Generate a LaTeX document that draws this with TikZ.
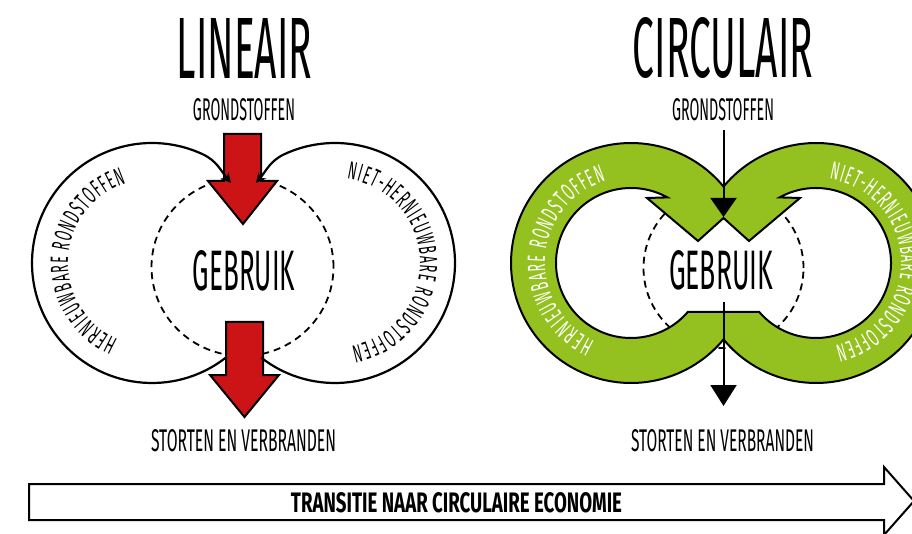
\documentclass[tikz,border=0pt]{standalone}
\usepackage{fontspec}
\setmainfont{Fira Sans}
\newfontfamily\handfont[FakeStretch=0.62]{Fira Sans}
\newfontfamily\curvefont[FakeStretch=0.5,Scale=2.5]{Fira Sans}
\usetikzlibrary{arrows.meta,decorations.text}
\definecolor{arrowred}{RGB}{204,20,23}
\definecolor{ringgreen}{RGB}{148,193,31}
\newcommand\lincurve{\curvefont}
\newcommand\greencurve{\curvefont}
\begin{document}
\begin{tikzpicture}[x=1pt,y=1pt,
  outl/.style={line width=2.2pt, draw=black},
  dashcirc/.style={line width=1.8pt, dash pattern=on 7pt off 5pt},
  redarrow/.style={fill=arrowred, draw=black, line width=2pt, line join=miter},
  ringfill/.style={fill=ringgreen, draw=black, line width=2pt, even odd rule, line join=miter},
  lbl/.style={inner sep=0pt, text=black},
  vline/.style={line width=2pt, draw=black},
  curvetxt/.style={decorate, decoration={text along path, text align=fit to path, text={#1}}},
  curvewhite/.style={decorate, decoration={text along path, text align=fit to path, text color=white, text={#1}}},
]
\useasboundingbox (0,0) rectangle (912,533);
\clip (0,0) rectangle (912,533);

% ---------- coordinates
\coordinate (LC1) at (152,270);
\coordinate (RC1) at (335,270);
\coordinate (CL) at (631,270);
\coordinate (CR) at (816,270);
\coordinate (lindash) at (242.5,266);
\coordinate (circdash) at (723.5,265);

% ---------- dashed circles
\draw[dashcirc] (lindash) ellipse [x radius=91, y radius=89];
\draw[dashcirc] (circdash) circle [radius=80];

% ---------- LINEAIR: red arrows
\draw[redarrow] (224,399) -- (261,399) -- (261,352) -- (277,352) -- (243,309) -- (208,352) -- (224,352) -- cycle;
\draw[redarrow] (226,211) -- (263,211) -- (263,158) -- (279,158) -- (244.5,116) -- (210,158) -- (226,158) -- cycle;

% ---------- LINEAIR: circles with arrowheads
\coordinate (tipL) at (231,350);
\coordinate (tipR) at (256,350);
\draw[outl, -{Stealth[length=10pt,width=10pt]}] ([shift={(-52:120)}]LC1) arc[start angle=-52, end angle=-295, radius=120] to[out=-25, in=130] (tipL);
\draw[outl, -{Stealth[length=10pt,width=10pt]}] ([shift={(232:120)}]RC1) arc[start angle=232, end angle=475, radius=120] to[out=-155, in=50] (tipR);

% ---------- LINEAIR: curved texts
\path[curvetxt={|\lincurve|HERNIEUWBARE RONDSTOFFEN}] ([shift={(246:84)}]LC1) arc[start angle=246, end angle=108, radius=84];
\path[curvetxt={|\lincurve|NIET-HERNIEUWBARE RONDSTOFFEN}] ([shift={(82:85)}]RC1) arc[start angle=82, end angle=-79, radius=85];

% ---------- CIRCULAIR: green rings
\draw[ringfill]
  ([shift={(39.55:120)}]CL) arc[start angle=39.55, end angle=320.45, radius=120]
  arc[start angle=219.55, end angle=500.45, radius=120] -- cycle
  ([shift={(-40.7:75)}]CL) arc[start angle=-40.7, end angle=-299, radius=75]
  -- (647,335) -- (698,292) -- (723.5,315) -- (749,292) -- (800,335)
  -- ([shift={(119:75)}]CR) arc[start angle=119, end angle=-139.3, radius=75] -- cycle;

% ---------- CIRCULAIR: curved white texts
\path[curvewhite={|\greencurve|HERNIEUWBARE RONDSTOFFEN}] ([shift={(245:86)}]CL) arc[start angle=245, end angle=107, radius=86];
\path[curvewhite={|\greencurve|NIET-HERNIEUWBARE RONDSTOFFEN}] ([shift={(81:85)}]CR) arc[start angle=81, end angle=-77, radius=85];

% ---------- titles and labels
\node[lbl] (lintitle) at (244.5,485) {\resizebox{135pt}{60pt}{\handfont LINEAIR}};
\node[lbl] (circtitle) at (723,485) {\resizebox{180pt}{60pt}{\handfont CIRCULAIR}};
\node[lbl] (lingrond) at (244,423) {\resizebox{102pt}{22pt}{\handfont GRONDSTOFFEN}};
\node[lbl] (circgrond) at (723,423) {\resizebox{102pt}{22pt}{\handfont GRONDSTOFFEN}};
\node[lbl] (lingeb) at (244,262.5) {\resizebox{102pt}{40pt}{\handfont GEBRUIK}};
\node[lbl] (circgeb) at (721,263) {\resizebox{104pt}{39pt}{\handfont GEBRUIK}};
\node[lbl] (linstort) at (243.5,92) {\resizebox{185pt}{22pt}{\handfont STORTEN EN VERBRANDEN}};
\node[lbl] (circstort) at (722.5,92) {\resizebox{183pt}{22pt}{\handfont STORTEN EN VERBRANDEN}};

% ---------- CIRCULAIR: vertical arrows
\coordinate (cin) at (723.5,403);
\coordinate (cintip) at (723.5,316);
\coordinate (cout) at (723.5,231);
\coordinate (couttip) at (723.5,127);
\draw[vline, -{Triangle[length=19pt,width=26pt]}] (cin) -- (cintip);
\draw[vline, -{Triangle[length=21pt,width=26pt]}] (cout) -- (couttip);

% ---------- transition arrow
\draw[line width=2pt, fill=white, line join=miter] (29,49) -- (884,49) -- (884,66) -- (914,32) -- (884,-2) -- (884,13) -- (29,13) -- cycle;
\node[lbl] (trans) at (456.5,30) {\resizebox{331pt}{20pt}{\handfont\bfseries TRANSITIE NAAR CIRCULAIRE ECONOMIE}};
\end{tikzpicture}
\end{document}
